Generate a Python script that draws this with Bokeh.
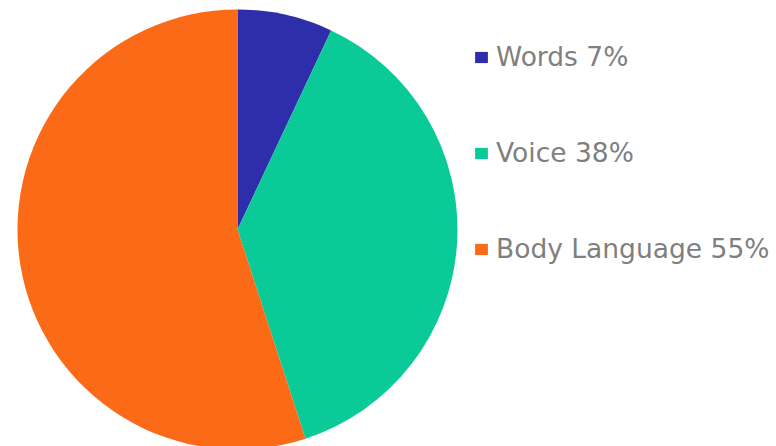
import math
from bokeh.plotting import figure
from bokeh.models import Range1d, Legend, LegendItem
from bokeh.embed import file_html
from bokeh.resources import INLINE

categories = ["Words", "Voice", "Body Language"]
values = [7, 38, 55]
labels = ["Words 7%", "Voice 38%", "Body Language 55%"]
colors = ["#2e2eaa", "#0acb98", "#fb6a16"]

W, H = 776, 446
p = figure(width=W, height=H, output_backend="svg", toolbar_location=None,
           x_range=Range1d(0, W), y_range=Range1d(0, H),
           min_border=0, outline_line_color=None)
p.axis.visible = False
p.grid.visible = False
p.background_fill_color = "white"
p.border_fill_color = "white"

total = sum(values)
starts, ends = [], []
cum = 0.0
for v in values:
    starts.append(math.pi / 2 - cum / total * 2 * math.pi)
    cum += v
    ends.append(math.pi / 2 - cum / total * 2 * math.pi)

cx, cy, r = 237, 217, 220
renderers = []
for i in range(len(values)):
    rr = p.wedge(x=cx, y=cy, radius=r, start_angle=starts[i], end_angle=ends[i],
                 direction="clock", fill_color=colors[i], line_color=None)
    renderers.append(rr)

items = [LegendItem(label=labels[i], renderers=[renderers[i]]) for i in range(len(values))]
legend = Legend(items=items, location=(473, 182), orientation="vertical",
                glyph_width=16, glyph_height=14, label_standoff=7,
                label_text_font="DejaVu Sans", label_text_font_size="26.5px",
                label_text_color="#7f7f7f", spacing=65, padding=0, margin=0,
                border_line_color=None, background_fill_alpha=0)
p.add_layout(legend, "center")

open("out.html", "w").write(file_html(p, INLINE))
